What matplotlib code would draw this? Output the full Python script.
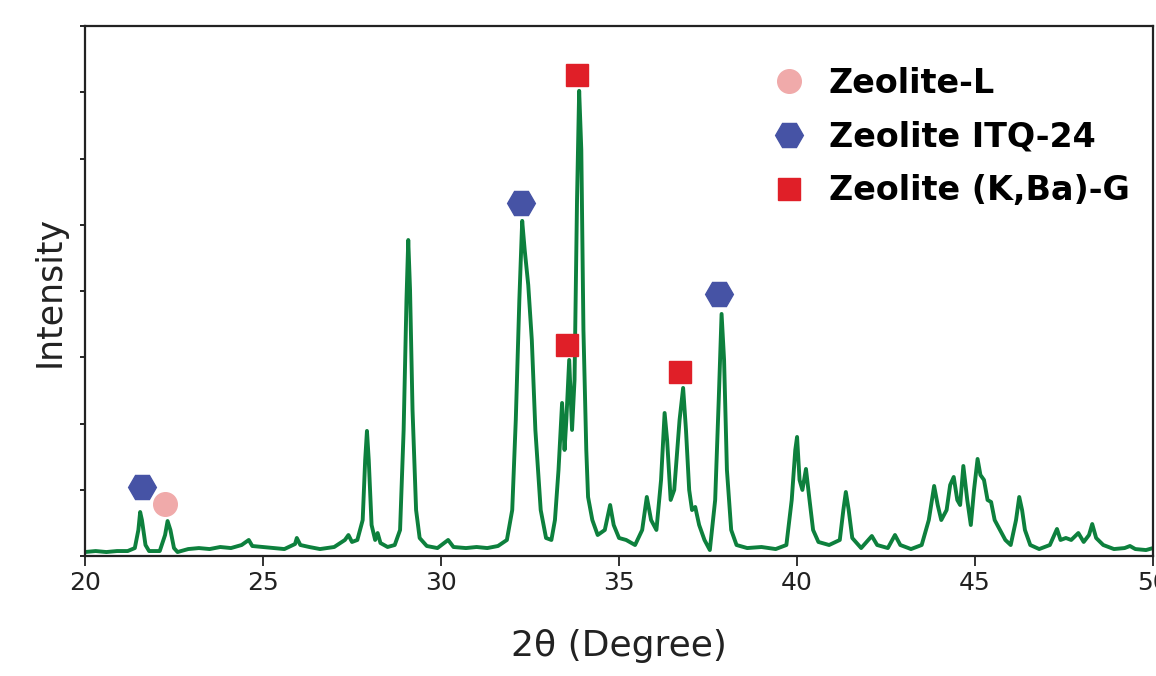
#XRD pattern of zeolite sample
import matplotlib
matplotlib.use("Agg")
import matplotlib.pyplot as plt

# traced diffraction pattern (2theta in degree, intensity in a.u.)
two_theta = [20.0, 20.3, 20.6, 20.9, 21.2, 21.4, 21.5, 21.55, 21.6, 21.7, 21.8,
             22.1, 22.25, 22.32, 22.4, 22.5, 22.6, 22.9, 23.2, 23.5, 23.8, 24.1,
             24.4, 24.6, 24.7, 25.0, 25.3, 25.6, 25.9, 25.95, 26.05, 26.3, 26.6,
             27.0, 27.3, 27.4, 27.5, 27.65, 27.8, 27.87, 27.92, 27.97, 28.05,
             28.15, 28.22, 28.3, 28.5, 28.7, 28.85, 28.95, 29.03, 29.08, 29.13,
             29.2, 29.3, 29.4, 29.6, 29.9, 30.2, 30.35, 30.7, 31.0, 31.3, 31.6,
             31.85, 32.0, 32.1, 32.2, 32.28, 32.35, 32.45, 32.55, 32.65, 32.8,
             32.95, 33.1, 33.2, 33.3, 33.4, 33.47, 33.52, 33.6, 33.68, 33.75,
             33.82, 33.88, 33.94, 34.0, 34.08, 34.13, 34.25, 34.4, 34.6, 34.75,
             34.85, 35.0, 35.2, 35.45, 35.65, 35.78, 35.9, 36.05, 36.18, 36.28,
             36.35, 36.45, 36.55, 36.7, 36.8, 36.88, 36.97, 37.05, 37.14, 37.25,
             37.4, 37.55, 37.7, 37.8, 37.88, 37.95, 38.03, 38.15, 38.3, 38.6,
             39.0, 39.4, 39.7, 39.85, 39.95, 40.0, 40.07, 40.15, 40.25, 40.35,
             40.45, 40.6, 40.9, 41.2, 41.3, 41.37, 41.45, 41.55, 41.8, 42.0,
             42.1, 42.25, 42.55, 42.75, 42.9, 43.2, 43.5, 43.7, 43.85, 43.95,
             44.05, 44.2, 44.3, 44.4, 44.5, 44.58, 44.67, 44.78, 44.88, 44.97,
             45.07, 45.15, 45.25, 45.35, 45.45, 45.55, 45.7, 45.85, 46.0, 46.15,
             46.24, 46.32, 46.4, 46.55, 46.8, 47.1, 47.3, 47.4, 47.55, 47.7,
             47.9, 48.05, 48.2, 48.29, 48.4, 48.6, 48.9, 49.2, 49.35, 49.5,
             49.8, 50.0]
intensity = [60, 75, 60, 75, 75, 120, 393, 664, 543, 166, 75,
             75, 317, 528, 393, 120, 60, 105, 120, 105, 136, 120,
             166, 242, 151, 136, 120, 105, 181, 272, 166, 136, 105,
             136, 242, 317, 212, 242, 543, 1450, 1888, 1450, 468,
             242, 347, 196, 136, 166, 393, 1900, 3866, 4770, 4017,
             2205, 694, 272, 151, 120, 242, 136, 120, 136, 120, 151,
             242, 694, 2054, 3866, 5059, 4621, 4092, 3262, 1903, 694,
             272, 242, 543, 1299, 2310, 1601, 2054, 2960, 1903, 2658,
             5376, 7022, 6131, 3413, 1601, 891, 543, 317, 393, 770,
             468, 272, 242, 166, 393, 891, 543, 393, 1148, 2159,
             1752, 846, 997, 2054, 2537, 1903, 997, 694, 740, 468,
             242, 90, 846, 2356, 3654, 2960, 1299, 393, 166, 120,
             136, 105, 166, 846, 1601, 1797, 1148, 997, 1314, 846,
             393, 212, 166, 242, 694, 966, 694, 272, 120, 242,
             302, 166, 120, 317, 166, 105, 166, 543, 1057, 770,
             543, 694, 1072, 1193, 846, 770, 1359, 846, 468, 997,
             1465, 1223, 1148, 846, 815, 543, 393, 242, 166, 543,
             891, 694, 393, 166, 105, 166, 408, 242, 272, 242,
             347, 212, 317, 483, 272, 166, 105, 120, 151, 105,
             90, 120]

# phase markers
zl_x = [22.25]
zl_y = [780]
itq_x = [21.6, 32.25, 37.81]
itq_y = [1040, 5330, 3950]
kbag_x = [33.82, 33.54, 36.71]
kbag_y = [7260, 3180, 2780]

fig = plt.figure(figsize=(11.56, 6.76), dpi=100)
ax = fig.add_axes([0.0735, 0.1775, 0.924, 0.784])

ax.plot(two_theta, intensity, color="#0d803d", lw=2.8, solid_joinstyle="round")

ax.plot(zl_x, zl_y, "o", color="#f0aaaa", ms=17, ls="none", label="Zeolite-L")
ax.plot(itq_x, itq_y, "H", color="#4653a5", ms=20, ls="none", label="Zeolite ITQ-24")
ax.plot(kbag_x, kbag_y, "s", color="#e01f28", ms=16, ls="none", label="Zeolite (K,Ba)-G")

ax.set_xlim(20, 50)
ax.set_ylim(0, 8000)
ax.set_xticks([20, 25, 30, 35, 40, 45, 50])
ax.set_yticks(range(0, 8001, 1000))
ax.set_yticklabels([])
ax.tick_params(axis="x", direction="out", length=7, width=1.3, labelsize=18,
               colors="#222222", pad=4)
ax.tick_params(axis="y", direction="out", length=3.5, width=1.2)

for s in ax.spines.values():
    s.set_linewidth(1.6)
    s.set_color("#222222")

ax.set_xlabel("2θ (Degree)", fontsize=26, color="#222222", labelpad=24)
ax.set_ylabel("Intensity", fontsize=25, color="#222222", labelpad=6)

ax.legend(loc="upper left", bbox_to_anchor=(0.615, 0.948), frameon=False,
          prop={"size": 24, "weight": "bold"}, handletextpad=0.2,
          labelspacing=0.62, borderaxespad=0)

plt.savefig("out.png", dpi=100)
